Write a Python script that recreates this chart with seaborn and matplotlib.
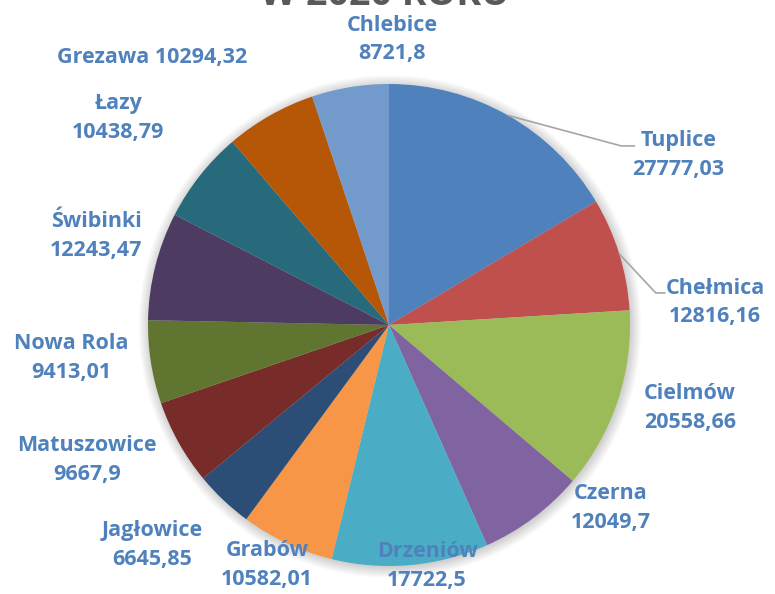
import numpy as np
import matplotlib
matplotlib.use("Agg")
import matplotlib.pyplot as plt
from matplotlib.patches import Circle
import seaborn as sns

# data
villages = ["Tuplice", "Chełmica", "Cielmów", "Czerna", "Drzeniów", "Grabów",
            "Jagłowice", "Matuszowice", "Nowa Rola", "Świbinki", "Łazy",
            "Grezawa", "Chlebice"]
values = [27777.03, 12816.16, 20558.66, 12049.7, 17722.5, 10582.01,
          6645.85, 9667.9, 9413.01, 12243.47, 10438.79, 10294.32, 8721.8]
value_labels = ["27777,03", "12816,16", "20558,66", "12049,7", "17722,5", "10582,01",
                "6645,85", "9667,9", "9413,01", "12243,47", "10438,79",
                "10294,32", "8721,8"]

colors = ["#4F81BD", "#C0504D", "#9BBB59", "#8064A2", "#4BACC6", "#F79646",
          "#2C4D75", "#772C2A", "#5F7530", "#4D3B62", "#276A7C", "#B65708",
          "#729ACA"]

# label centres (pie radius = 1)
label_xy = [(1.20, 0.705), (1.353, 0.095), (1.249, -0.344), (0.921, -0.759),
            (0.158, -1.0), (-0.506, -0.996), (-0.983, -0.913), (-1.253, -0.560),
            (-1.32, -0.137), (-1.216, 0.369), (-1.124, 0.859), (-0.983, 1.108),
            (0.012, 1.183)]
# leader lines: (elbow point, end point) for slices with a line
leaders = {0: ((0.964, 0.743), (1.019, 0.743)),
           1: ((1.107, 0.133), (1.145, 0.133))}

sns.set_theme(style="white")
plt.rcParams['font.family'] = ['Open Sans', 'DejaVu Sans']

fig = plt.figure(figsize=(7.75, 5.94), dpi=100)
ax = fig.add_axes([0, 0, 1, 1])

# soft shadow
for k in range(8):
    ax.add_patch(Circle((0.004, -0.006), 1.0 + 0.006 * k, color="black",
                        alpha=0.025, lw=0, zorder=0))

wedges, _ = ax.pie(values, colors=colors, startangle=90, counterclock=False,
                   radius=1.0, wedgeprops=dict(linewidth=0))
for w in wedges:
    w.set_zorder(2)

ax.set_xlim(-389 / 241, (775 - 389) / 241)
ax.set_ylim(-(594 - 325) / 241, 325 / 241)
ax.set_aspect("equal")
ax.axis("off")

label_color = "#4F81BD"
for i, (name, lab) in enumerate(zip(villages, value_labels)):
    x, y = label_xy[i]
    text = f"{name} {lab}" if name == "Grezawa" else f"{name}\n{lab}"
    ax.text(x, y, text, ha="center", va="center", fontsize=15.5,
            fontweight="bold", color=label_color, linespacing=1.45, zorder=5)
    if i in leaders:
        w = wedges[i]
        mid = np.deg2rad((w.theta1 + w.theta2) / 2)
        ex, ey = np.cos(mid), np.sin(mid)
        (bx, by), (cx, cy) = leaders[i]
        ax.plot([ex, bx, cx], [ey, by, cy], color="#A6A6A6", lw=1.2, zorder=3)

fig.text(0.497, 0.991, "W 2020 ROKU", ha="center", va="baseline",
         fontsize=27, fontweight="bold", color="#595959")

fig.savefig("out.png", dpi=100)
